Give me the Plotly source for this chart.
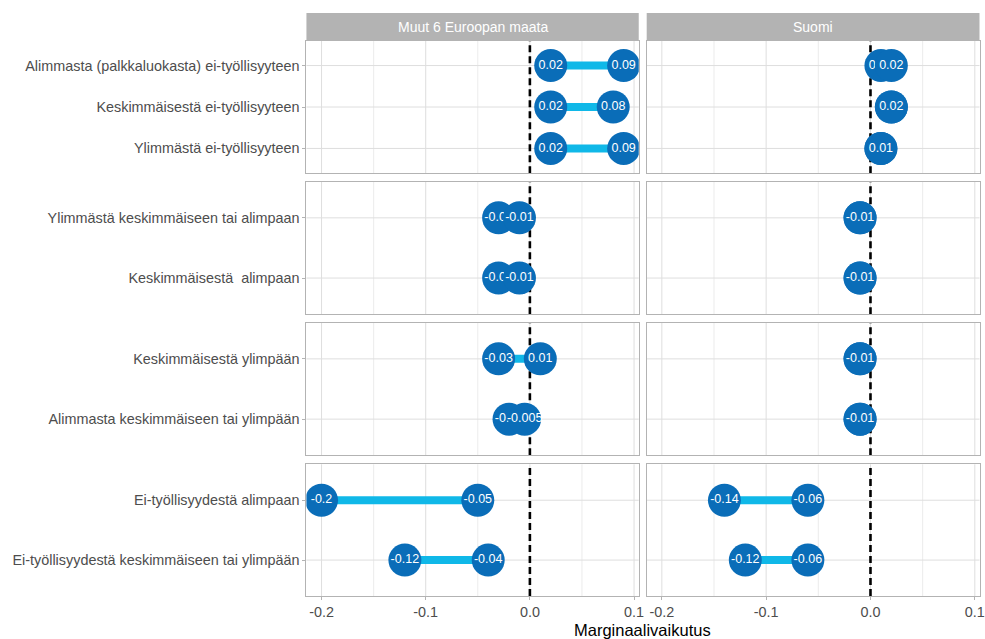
import plotly.graph_objects as go

W, H = 985, 639

panel_titles = ["Muut 6 Euroopan maata", "Suomi"]

row_labels = [
    ["Alimmasta (palkkaluokasta) ei-työllisyyteen",
     "Keskimmäisestä ei-työllisyyteen",
     "Ylimmästä ei-työllisyyteen"],
    ["Ylimmästä keskimmäiseen tai alimpaan",
     "Keskimmäisestä\u00a0 alimpaan"],
    ["Keskimmäisestä ylimpään",
     "Alimmasta keskimmäiseen tai ylimpään"],
    ["Ei-työllisyydestä alimpaan",
     "Ei-työllisyydestä keskimmäiseen tai ylimpään"],
]

# left end / right end of each dumbbell, per group
muut_start = [[0.02, 0.02, 0.02], [-0.03, -0.03], [-0.03, -0.02], [-0.2, -0.12]]
muut_end = [[0.09, 0.08, 0.09], [-0.01, -0.01], [0.01, -0.005], [-0.05, -0.04]]
suomi_start = [[0.01, 0.02, 0.01], [-0.01, -0.01], [-0.01, -0.01], [-0.14, -0.12]]
suomi_end = [[0.02, 0.02, 0.01], [-0.01, -0.01], [-0.01, -0.01], [-0.06, -0.06]]

x_ticks = [-0.2, -0.1, 0.0, 0.1]
x_ticktext = ["-0.2", "-0.1", "0.0", "0.1"]
x_minor = [-0.15, -0.05, 0.05]

DOT = "#0A6DB8"
SEG = "#10B8E8"
GRID = "#DEDEDE"
GRID_MINOR = "#E6E6E6"
BORDER = "#B3B3B3"
FONT = "Liberation Sans, Arial, sans-serif"

# panel geometry in pixels
col_px = [(308, 642), (650, 984.5)]
row_px = [(40.7, 173.3), (181.7, 314.2), (322.7, 455.3), (464.3, 596)]


def fx(px):
    return px / W


def fy(px):
    return 1 - px / H


def lab(v):
    return f"{v:g}"


fig = go.Figure()
layout = {}
shapes = []
annotations = []

for r in range(4):
    cats = row_labels[r]
    n = len(cats)
    for c in range(2):
        k = r * 2 + c + 1
        xs = "x" if k == 1 else f"x{k}"
        ys = "y" if k == 1 else f"y{k}"
        xa = "xaxis" if k == 1 else f"xaxis{k}"
        ya = "yaxis" if k == 1 else f"yaxis{k}"
        a_vals = (muut_start if c == 0 else suomi_start)[r]
        b_vals = (muut_end if c == 0 else suomi_end)[r]

        # panel grid, kept beneath the zero line and the marks
        for v in x_ticks:
            shapes.append(dict(type="line", xref=xs, yref=f"{ys} domain",
                               x0=v, x1=v, y0=0, y1=1, layer="below",
                               line=dict(color=GRID, width=1)))
        for v in x_minor:
            shapes.append(dict(type="line", xref=xs, yref=f"{ys} domain",
                               x0=v, x1=v, y0=0, y1=1, layer="below",
                               line=dict(color=GRID_MINOR, width=0.8)))
        for cat in cats:
            shapes.append(dict(type="line", xref=f"{xs} domain", yref=ys,
                               x0=0, x1=1, y0=cat, y1=cat, layer="below",
                               line=dict(color=GRID, width=1)))
        # reference line at zero
        shapes.append(dict(
            type="line", xref=xs, yref=f"{ys} domain", x0=0, x1=0, y0=0, y1=1,
            line=dict(color="black", width=2.6, dash="7px,4px"), layer="below"))

        seg_x, seg_y = [], []
        for cat, a, b in zip(cats, a_vals, b_vals):
            seg_x += [a, b, None]
            seg_y += [cat, cat, None]
        fig.add_trace(go.Scatter(
            x=seg_x, y=seg_y, mode="lines", xaxis=xs, yaxis=ys,
            line=dict(color=SEG, width=8), hoverinfo="skip", showlegend=False))
        for vals in (a_vals, b_vals):
            fig.add_trace(go.Scatter(
                x=vals, y=cats, mode="markers+text", xaxis=xs, yaxis=ys,
                marker=dict(size=33, color=DOT, line=dict(width=0)),
                text=[lab(v) for v in vals], textposition="middle center",
                textfont=dict(family=FONT, size=12.5, color="white"),
                hoverinfo="skip", showlegend=False))

        last = r == 3
        layout[xa] = dict(
            domain=[fx(col_px[c][0]), fx(col_px[c][1])], anchor=ys,
            range=[-0.2145, 0.1045], tickvals=x_ticks, ticktext=x_ticktext,
            showticklabels=last, ticks="outside" if last else "", ticklen=3,
            tickcolor=BORDER, tickfont=dict(family=FONT, size=14.4, color="#4D4D4D"),
            showgrid=False, showline=True, mirror=True, linecolor=BORDER,
            linewidth=1, zeroline=False, fixedrange=True)
        layout[ya] = dict(
            domain=[fy(row_px[r][1]), fy(row_px[r][0])], anchor=xs,
            type="category", categoryorder="array", categoryarray=cats,
            range=[n - 0.4, -0.6],
            showticklabels=(c == 0), ticks="outside" if c == 0 else "",
            ticklen=3, tickcolor=BORDER,
            tickfont=dict(family=FONT, size=14.4, color="#4D4D4D"),
            showgrid=False, showline=True, mirror=True, linecolor=BORDER,
            linewidth=1, zeroline=False, fixedrange=True)

# facet strips
for c in range(2):
    shapes.append(dict(
        type="rect", xref="paper", yref="paper",
        x0=fx(col_px[c][0]), x1=fx(col_px[c][1]), y0=fy(40.7), y1=fy(13),
        fillcolor=BORDER, line=dict(width=0), layer="above"))
    annotations.append(dict(
        text=panel_titles[c], xref="paper", yref="paper",
        x=fx((col_px[c][0] + col_px[c][1]) / 2), y=fy(27),
        xanchor="center", yanchor="middle", showarrow=False,
        font=dict(family=FONT, size=14, color="white")))

annotations.append(dict(
    text="Marginaalivaikutus", xref="paper", yref="paper",
    x=fx((col_px[0][0] + col_px[1][1]) / 2), y=fy(630),
    xanchor="center", yanchor="middle", showarrow=False,
    font=dict(family=FONT, size=16.5, color="black")))

fig.update_layout(
    width=W, height=H, margin=dict(l=0, r=0, t=0, b=0),
    paper_bgcolor="white", plot_bgcolor="white",
    shapes=shapes, annotations=annotations, showlegend=False,
    **layout)

fig.write_html("out.html")
